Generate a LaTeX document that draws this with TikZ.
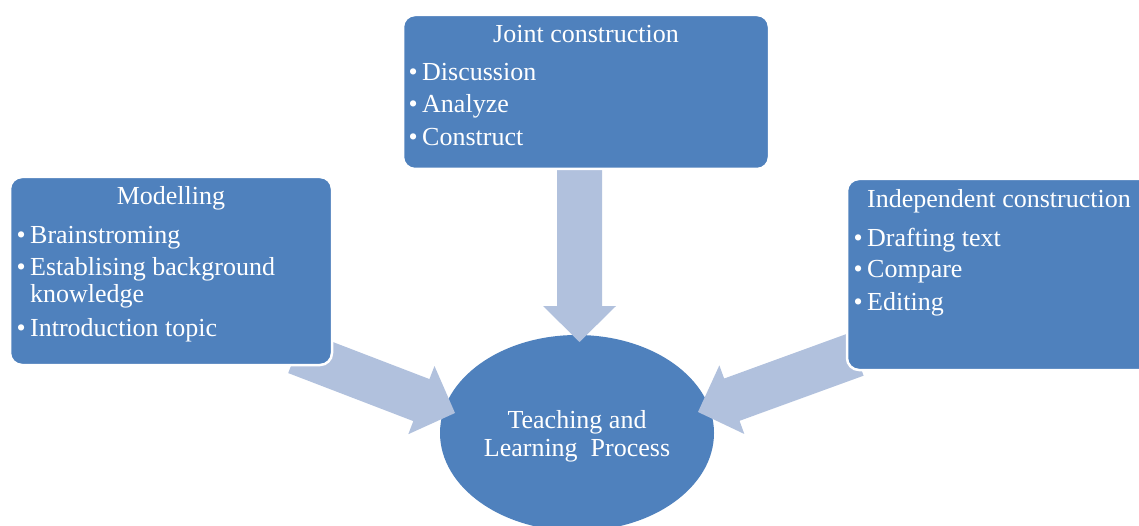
\documentclass[tikz,border=0pt]{standalone}
\usepackage{fontspec}
\setmainfont{Liberation Serif}
\usetikzlibrary{calc,shapes.geometric}
\definecolor{boxblue}{HTML}{4F81BD}
\definecolor{arrowblue}{HTML}{B1C1DD}
\tikzset{
  card/.style={fill=boxblue, draw=white, line width=2.5pt, rounded corners=12pt, inner sep=0pt},
  txt/.style={text=white, font=\fontsize{26}{27}\selectfont, inner sep=0pt, anchor=base west},
  ttl/.style={text=white, font=\fontsize{26}{27}\selectfont, inner sep=0pt, anchor=base},
  blk/.style={fill=arrowblue, draw=none}
}
\newcommand{\blockarrow}[2]{%
  \coordinate (ba) at ($(#2)!36pt!(#1)$);
  \fill[blk] ($(#1)!22.5pt!90:(#2)$) -- ($(ba)!22.5pt!90:(#2)$) -- ($(ba)!36.5pt!90:(#2)$) -- (#2)
    -- ($(ba)!36.5pt!-90:(#2)$) -- ($(ba)!22.5pt!-90:(#2)$) -- ($(#1)!22.5pt!-90:(#2)$) -- cycle;}
\begin{document}
\begin{tikzpicture}[x=1pt,y=-1pt]
\clip (0,0) rectangle (1139,526);
\fill[white] (0,0) rectangle (1139,526);
% centre ellipse
\node[ellipse, fill=boxblue, minimum width=274pt, minimum height=196pt, inner sep=0pt] (tlp) at (577,433) {};
\node[ttl] (tlp1) at (577,428) {Teaching and};
\node[ttl] (tlp2) at (577,456) {Learning\ \ Process};
% arrow coordinates
\coordinate (jt) at (579.5,170);
\coordinate (jtip) at (579.5,342);
\coordinate (mtip) at (455,413);
\coordinate (mt) at ($(mtip)+(21:-170)$);
\coordinate (itip) at (698,412);
\coordinate (it) at ($(itip)+(-20:168)$);
\blockarrow{jt}{jtip}
\blockarrow{mt}{mtip}
\blockarrow{it}{itip}
% boxes
\node[card, minimum width=322pt, minimum height=188pt] (mod) at (171,271) {};
\node[card, minimum width=366pt, minimum height=154pt] (joint) at (586,92) {};
\node[card, minimum width=306pt, minimum height=191pt] (ind) at (1000,274.5) {};
% Modelling text
\node[ttl] (modt) at (171,205) {Modelling};
\node[txt] (m1b) at (16.5,244) {•};
\node[txt] (m1) at (30,244) {Brainstroming};
\node[txt] (m2b) at (16.5,276) {•};
\node[txt] (m2) at (30,276) {Establising background};
\node[txt] (m2c) at (30,302) {knowledge};
\node[txt] (m3b) at (16.5,336) {•};
\node[txt] (m3) at (30,336) {Introduction topic};
% Joint text
\node[ttl] (jtt) at (586,43) {Joint construction};
\node[txt] (j1b) at (408.5,81) {•};
\node[txt] (j1) at (422,81) {Discussion};
\node[txt] (j2b) at (408.5,113) {•};
\node[txt] (j2) at (422,113) {Analyze};
\node[txt] (j3b) at (408.5,146) {•};
\node[txt] (j3) at (422,146) {Construct};
% Independent text
\node[ttl] (itt) at (999,208) {Independent construction};
\node[txt] (i1b) at (853.5,247) {•};
\node[txt] (i1) at (867,247) {Drafting text};
\node[txt] (i2b) at (853.5,278) {•};
\node[txt] (i2) at (867,278) {Compare};
\node[txt] (i3b) at (853.5,310) {•};
\node[txt] (i3) at (867,310) {Editing};
\end{tikzpicture}
\end{document}
